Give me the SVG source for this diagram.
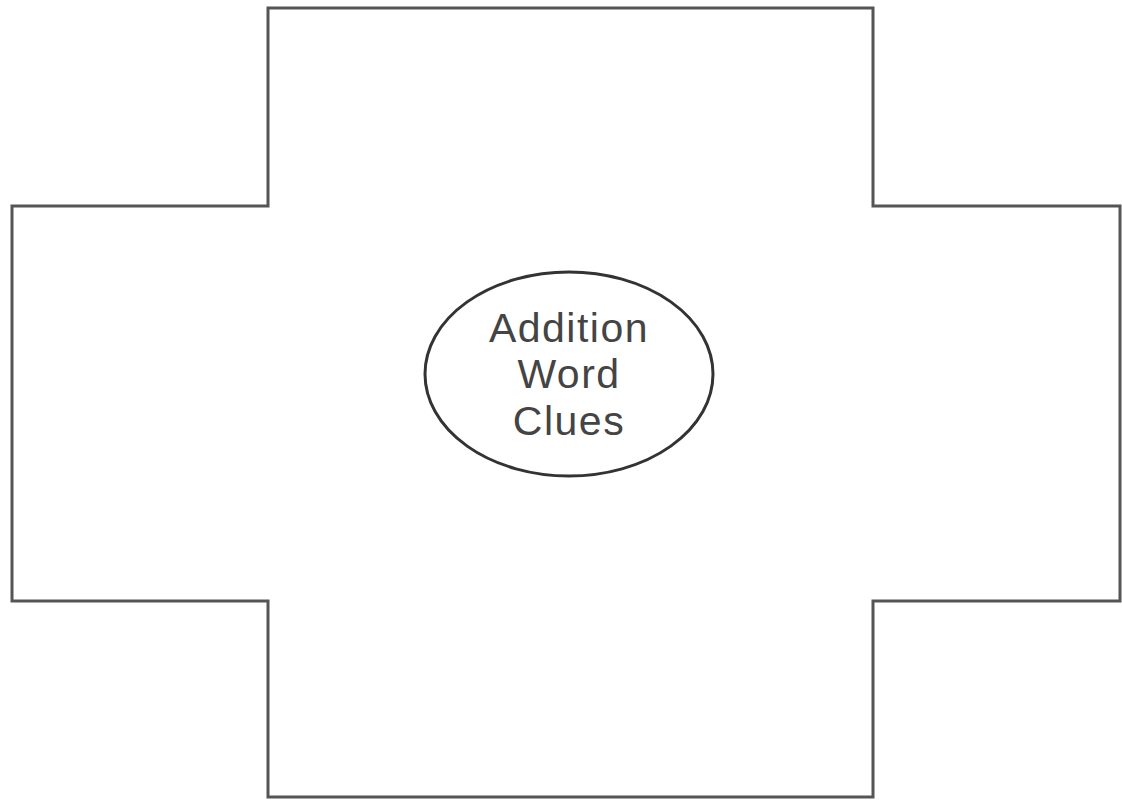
<svg xmlns="http://www.w3.org/2000/svg" width="1122" height="800" viewBox="0 0 1122 800">
<style>
.outline{fill:#fff;stroke:#555;stroke-width:3}
.oval{fill:#fff;stroke:#333;stroke-width:3}
.lbl{font-family:"Liberation Sans",Arial,sans-serif;font-size:41px;fill:#444;text-anchor:middle;letter-spacing:1.5px}
</style>
<rect width="1122" height="800" fill="#fff"/>
<g id="cross">
<path class="outline" d="M268,8 H873 V206 H1120 V601 H873 V797 H268 V601 H12 V206 H268 Z"/>
</g>
<g id="center">
<ellipse class="oval" cx="569" cy="374" rx="144" ry="102"/>
<text class="lbl" x="569" y="342">Addition</text>
<text class="lbl" x="569" y="388">Word</text>
<text class="lbl" x="569" y="435">Clues</text>
</g>
<g id="connectors"/>
</svg>
